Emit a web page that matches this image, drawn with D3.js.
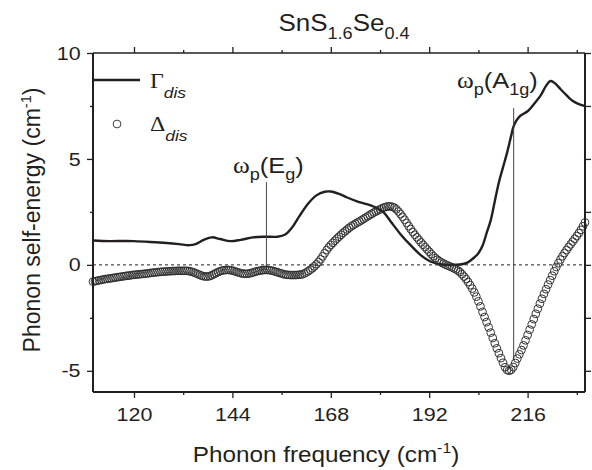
<!DOCTYPE html>
<html><head><meta charset="utf-8">
<script src="https://cdn.jsdelivr.net/npm/d3@7"></script>
<style>
body{margin:0;background:#fff}
svg{display:block}
text{font-family:"Liberation Sans",Arial,sans-serif;fill:#231f20}
</style>
</head><body><svg id="c" width="592" height="470"></svg>
<script>
// ---- data ----
const xMajorTicks = [120,144,168,192,216];
const xMinorTicks = [132,156,180,204,228];
const yMajorTicks = [-5,0,5,10];
const yMinorTicks = [-2.5,2.5,7.5];

const gammaFreq = [110,114,118,120,124,128,131,133.5,135,137,139,141,143.5,146,149,152,155,157,158.5,160.5,162.5,164.5,166.5,168,170,172,174.4,177,179.3,181,182.6,185,187.4,190,192.3,195,197.2,199.5,201.3,203,204,205,206,207,208,209,210,211,212,212.7,214,216,218,219.2,220.5,221.6,222.8,224,225,226.3,227.5,229,230];
const gammaVals = [1.15,1.12,1.13,1.12,1.08,1.03,0.98,0.93,0.98,1.18,1.30,1.22,1.12,1.18,1.30,1.33,1.33,1.45,1.75,2.35,2.9,3.28,3.45,3.46,3.35,3.18,3.00,2.85,2.67,2.45,2.05,1.45,0.94,0.45,0.16,0.02,0.0,0.02,0.11,0.35,0.55,0.9,1.5,2.1,3.0,3.9,4.6,5.3,6.1,6.6,7.0,7.25,7.7,8.0,8.45,8.68,8.55,8.3,8.1,7.85,7.68,7.55,7.5];

// Delta_dis sampled every 0.5 cm-1 from 110 to 230
const deltaStart = 110, deltaStep = 0.5;
const deltaVals = [
-0.79,-0.77,-0.75,-0.73,-0.71,-0.69,-0.67,-0.66,-0.64,-0.63,
-0.61,-0.60,-0.58,-0.57,-0.55,-0.54,-0.52,-0.51,-0.50,-0.48,
-0.47,-0.46,-0.45,-0.44,-0.43,-0.42,-0.41,-0.40,-0.38,-0.37,
-0.36,-0.35,-0.34,-0.33,-0.32,-0.32,-0.31,-0.30,-0.30,-0.29,
-0.29,-0.28,-0.28,-0.28,-0.28,-0.28,-0.28,-0.30,-0.32,-0.35,
-0.39,-0.43,-0.47,-0.51,-0.54,-0.55,-0.55,-0.53,-0.49,-0.44,
-0.39,-0.34,-0.30,-0.27,-0.25,-0.24,-0.24,-0.25,-0.27,-0.30,
-0.33,-0.36,-0.39,-0.41,-0.42,-0.42,-0.41,-0.39,-0.36,-0.33,
-0.30,-0.28,-0.26,-0.25,-0.24,-0.24,-0.25,-0.27,-0.29,-0.32,
-0.35,-0.38,-0.41,-0.44,-0.46,-0.47,-0.48,-0.48,-0.48,-0.48,
-0.47,-0.46,-0.45,-0.41,-0.36,-0.30,-0.23,-0.16,-0.07,0.03,
0.13,0.26,0.40,0.55,0.70,0.83,0.94,1.04,1.14,1.24,
1.33,1.42,1.51,1.59,1.67,1.75,1.82,1.88,1.94,2.00,
2.05,2.11,2.17,2.23,2.29,2.35,2.41,2.47,2.52,2.57,
2.62,2.67,2.71,2.74,2.76,2.76,2.74,2.70,2.62,2.52,
2.40,2.27,2.13,1.98,1.83,1.69,1.55,1.42,1.30,1.18,
1.06,0.95,0.84,0.73,0.62,0.51,0.41,0.32,0.24,0.17,
0.11,0.06,0.01,-0.03,-0.07,-0.11,-0.16,-0.21,-0.27,-0.34,
-0.44,-0.55,-0.67,-0.81,-0.96,-1.12,-1.30,-1.50,-1.72,-1.96,
-2.22,-2.46,-2.70,-2.95,-3.20,-3.45,-3.70,-3.94,-4.17,-4.40,
-4.62,-4.83,-4.96,-5.00,-4.95,-4.82,-4.63,-4.42,-4.22,-4.02,
-3.80,-3.56,-3.31,-3.06,-2.81,-2.56,-2.31,-2.07,-1.83,-1.60,
-1.37,-1.15,-0.93,-0.72,-0.51,-0.30,-0.10,0.08,0.25,0.41,
0.56,0.70,0.84,0.97,1.10,1.23,1.36,1.50,1.65,1.82,
2.00];

const markerEg = {freq:152.3, top:3.9, bottom:-0.24};
const markerA1g = {freq:212.6, top:7.4, bottom:-4.5};

// ---- layout ----
const W = 592, H = 470;
const m = {left:93, top:53, right:7, bottom:78};
const iw = W - m.left - m.right, ih = H - m.top - m.bottom;
const SX = 1.13; // horizontal stretch of glyphs seen in the reference

const svg = d3.select("#c");
const g = svg.append("g").attr("transform", `translate(${m.left},${m.top})`);

const x = d3.scaleLinear().domain([110,230]).range([0, iw]);
const y = d3.scaleLinear().domain([-6,10]).range([ih, 0]);

// zero dashed line
g.append("line").attr("x1",0).attr("x2",iw).attr("y1",y(0)).attr("y2",y(0))
  .attr("stroke","#231f20").attr("stroke-width",1).attr("stroke-dasharray","3,3");

// Gamma line
const gammaData = gammaFreq.map((f,i)=>[f,gammaVals[i]]);
g.append("path").datum(gammaData)
  .attr("fill","none").attr("stroke","#231f20").attr("stroke-width",2.4)
  .attr("d", d3.line().x(d=>x(d[0])).y(d=>y(d[1])).curve(d3.curveCatmullRom.alpha(0.5)));

// marker lines
[markerEg, markerA1g].forEach(mk=>{
  g.append("line").attr("x1",x(mk.freq)).attr("x2",x(mk.freq))
    .attr("y1",y(mk.top)).attr("y2",y(mk.bottom))
    .attr("stroke","#444").attr("stroke-width",1);
});

// Delta circles
const deltaData = deltaVals.map((v,i)=>[deltaStart + i*deltaStep, v]);
g.append("g").selectAll("circle").data(deltaData).join("circle")
  .attr("cx",d=>x(d[0])).attr("cy",d=>y(d[1])).attr("r",3.9)
  .attr("fill","none").attr("stroke","#2b2b2b").attr("stroke-width",0.95);

// ---- axes ----
function styleAxis(sel){
  sel.select(".domain").remove();
  sel.selectAll("line").attr("stroke","#231f20").attr("stroke-width",1.3);
}
const fontTick = 19;
const fmt = d => String(d);
// bottom
const gb = g.append("g").attr("transform",`translate(0,${ih})`)
  .call(d3.axisBottom(x).tickValues(xMajorTicks).tickSize(6).tickPadding(10).tickFormat(fmt));
styleAxis(gb);
gb.selectAll("text").attr("font-size",fontTick).attr("font-family","Liberation Sans, Arial, sans-serif")
  .attr("fill","#231f20").attr("transform",`scale(${SX},1)`);
const gbm = g.append("g").attr("transform",`translate(0,${ih})`)
  .call(d3.axisBottom(x).tickValues(xMinorTicks).tickSize(3).tickFormat(""));
styleAxis(gbm);
// top
const gt = g.append("g").call(d3.axisTop(x).tickValues(xMajorTicks).tickSize(6).tickFormat(""));
styleAxis(gt);
const gtm = g.append("g").call(d3.axisTop(x).tickValues(xMinorTicks).tickSize(3).tickFormat(""));
styleAxis(gtm);
// left
const gl = g.append("g").call(d3.axisLeft(y).tickValues(yMajorTicks).tickSize(6).tickPadding(5).tickFormat(fmt));
styleAxis(gl);
gl.selectAll("text").attr("font-size",fontTick).attr("font-family","Liberation Sans, Arial, sans-serif")
  .attr("fill","#231f20").attr("transform",`scale(${SX},1)`);
const glm = g.append("g").call(d3.axisLeft(y).tickValues(yMinorTicks).tickSize(3).tickFormat(""));
styleAxis(glm);
// right
const gr = g.append("g").attr("transform",`translate(${iw},0)`)
  .call(d3.axisRight(y).tickValues(yMajorTicks.concat(yMinorTicks)).tickSize(6).tickFormat(""));
styleAxis(gr);

// frame
g.append("line").attr("x1",0).attr("x2",iw).attr("y1",0).attr("y2",0).attr("stroke","#231f20").attr("stroke-width",1.4);
g.append("line").attr("x1",0).attr("x2",iw).attr("y1",ih).attr("y2",ih).attr("stroke","#231f20").attr("stroke-width",2);
g.append("line").attr("x1",0).attr("x2",0).attr("y1",0).attr("y2",ih).attr("stroke","#231f20").attr("stroke-width",2);
g.append("line").attr("x1",iw).attr("x2",iw).attr("y1",0).attr("y2",ih).attr("stroke","#231f20").attr("stroke-width",2);

// ---- rich text helper ----
const SANS = "Liberation Sans, Arial, sans-serif";
const SERIF = "Liberation Serif, Times New Roman, serif";
function rich(parent, tx, ty, parts, opts={}){
  const t = parent.append("text")
    .attr("transform", `translate(${tx},${ty}) ${opts.rotate?`rotate(${opts.rotate})`:""} scale(${opts.sx||1},1)`)
    .attr("text-anchor", opts.anchor||"start");
  let cur = 0;
  parts.forEach(p=>{
    const off = p.dy||0;
    t.append("tspan").text(p.t)
      .attr("dy", off - cur)
      .attr("font-size", p.size)
      .attr("font-family", p.family||SANS)
      .attr("font-style", p.italic?"italic":"normal");
    cur = off;
  });
  return t;
}

// title
rich(svg, 344, 31, [
  {t:"SnS", size:23},
  {t:"1.6", size:16, dy:8},
  {t:"Se", size:23},
  {t:"0.4", size:16, dy:8}
], {anchor:"middle", sx:SX});

// axis titles
rich(svg, 326, 462, [
  {t:"Phonon frequency (cm", size:21.5},
  {t:"-1", size:14, dy:-9},
  {t:")", size:21.5}
], {anchor:"middle", sx:SX});
rich(svg, 40, 220, [
  {t:"Phonon self-energy (cm", size:23},
  {t:"-1", size:14.5, dy:-9},
  {t:")", size:23}
], {anchor:"middle", rotate:-90});

// legend
svg.append("line").attr("x1",m.left).attr("x2",140).attr("y1",80).attr("y2",80)
  .attr("stroke","#231f20").attr("stroke-width",2.4);
rich(svg, 150, 88, [
  {t:"Γ", size:21, family:SERIF},
  {t:"dis", size:15.5, italic:true, dy:10}
], {sx:SX});
svg.append("circle").attr("cx",117).attr("cy",124).attr("r",3.9)
  .attr("fill","none").attr("stroke","#333").attr("stroke-width",0.95);
rich(svg, 150, 131, [
  {t:"Δ", size:21, family:SERIF},
  {t:"dis", size:15.5, italic:true, dy:10}
], {sx:SX});

// annotations
rich(svg, 233, 173, [
  {t:"ω", size:22.5, family:SERIF},
  {t:"p", size:16, dy:7},
  {t:"(E", size:22.5},
  {t:"g", size:16, dy:7},
  {t:")", size:22.5}
], {sx:SX});
rich(svg, 457, 88, [
  {t:"ω", size:22.5, family:SERIF},
  {t:"p", size:16, dy:7},
  {t:"(A", size:22.5},
  {t:"1g", size:16, dy:7},
  {t:")", size:22.5}
], {sx:SX});
</script>
</body></html>
